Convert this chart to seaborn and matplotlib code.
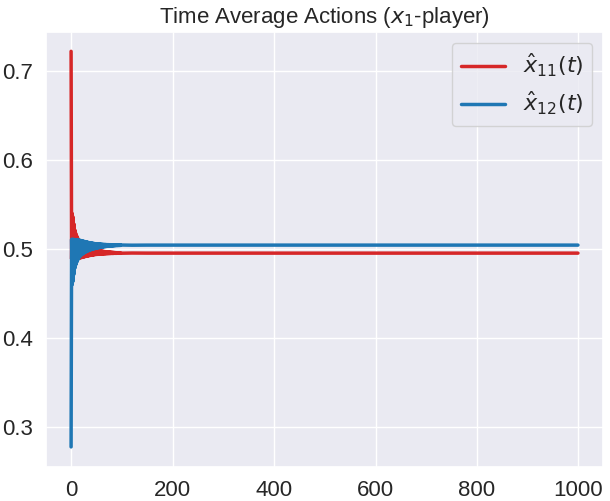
import pandas as pd
import matplotlib
matplotlib.use('Agg')
import matplotlib.pyplot as plt
import seaborn as sns
import numpy as np


'''
Values read off the reference picture.
The first 100 steps alternate, so they are kept as even / odd steps.
After that the averages are flat, so only a few points are kept.
'''
x11_even = [0.722, 0.540, 0.536, 0.528, 0.521, 0.517, 0.514, 0.5115, 0.5095, 0.508,
            0.5068, 0.5058, 0.505, 0.5042, 0.5035, 0.5029, 0.5023, 0.5018, 0.5013, 0.5009,
            0.5005, 0.5001, 0.4998, 0.4995, 0.4992, 0.4989, 0.4987, 0.4985, 0.4983, 0.4981,
            0.4979, 0.4977, 0.4975, 0.4973, 0.4972, 0.4970, 0.4969, 0.4968, 0.4967, 0.4966,
            0.4965, 0.4964, 0.4963, 0.4962, 0.4961, 0.4960, 0.4960, 0.4959, 0.4959, 0.4958]
x11_odd = [0.489, 0.489, 0.489, 0.4895, 0.4895, 0.4895, 0.4898, 0.490, 0.490, 0.4903,
           0.4906, 0.4909, 0.4912, 0.4915, 0.4918, 0.492, 0.4923, 0.4926, 0.4928, 0.493,
           0.4932, 0.4934, 0.4936, 0.4938, 0.4939, 0.4940, 0.4941, 0.4942, 0.4943, 0.4944,
           0.4945, 0.4946, 0.4947, 0.4947, 0.4948, 0.4949, 0.4949, 0.4950, 0.4950, 0.4951,
           0.4951, 0.4951, 0.4952, 0.4952, 0.4952, 0.4953, 0.4953, 0.4953, 0.4953, 0.4954]

x12_even = [0.278, 0.460, 0.464, 0.472, 0.479, 0.483, 0.486, 0.4885, 0.4905, 0.492,
            0.4932, 0.4942, 0.495, 0.4958, 0.4965, 0.4971, 0.4977, 0.4982, 0.4987, 0.4991,
            0.4995, 0.4999, 0.5002, 0.5005, 0.5008, 0.5011, 0.5013, 0.5015, 0.5017, 0.5019,
            0.5021, 0.5023, 0.5025, 0.5027, 0.5028, 0.5030, 0.5031, 0.5032, 0.5033, 0.5034,
            0.5035, 0.5036, 0.5037, 0.5038, 0.5039, 0.5040, 0.5040, 0.5041, 0.5041, 0.5042]
x12_odd = [0.511, 0.511, 0.511, 0.5105, 0.5105, 0.5105, 0.5102, 0.510, 0.510, 0.5097,
           0.5094, 0.5091, 0.5088, 0.5085, 0.5082, 0.508, 0.5077, 0.5074, 0.5072, 0.507,
           0.5068, 0.5066, 0.5064, 0.5062, 0.5061, 0.5060, 0.5059, 0.5058, 0.5057, 0.5056,
           0.5055, 0.5054, 0.5053, 0.5053, 0.5052, 0.5051, 0.5051, 0.5050, 0.5050, 0.5049,
           0.5049, 0.5049, 0.5048, 0.5048, 0.5048, 0.5047, 0.5047, 0.5047, 0.5047, 0.5046]

tail_steps = [120, 150, 200, 300, 400, 500, 600, 700, 800, 900, 999]
x11_tail = [0.4956, 0.4955, 0.4955, 0.4955, 0.4955, 0.4955, 0.4955, 0.4955, 0.4955, 0.4955, 0.4955]
x12_tail = [0.5044, 0.5045, 0.5045, 0.5045, 0.5045, 0.5045, 0.5045, 0.5045, 0.5045, 0.5045, 0.5045]

labels = [r'$\hat{x}_{11}(t)$', r'$\hat{x}_{12}(t)$']


'''
Put the even / odd steps back in order and add the tail
'''
def build(even, odd, tail):
    early = []
    for a, b in zip(even, odd):
        early += [a, b]
    return early + tail

steps = list(range(100)) + tail_steps
df = pd.concat([
    pd.DataFrame({'t': steps, 'value': build(x11_even, x11_odd, x11_tail), 'series': labels[0]}),
    pd.DataFrame({'t': steps, 'value': build(x12_even, x12_odd, x12_tail), 'series': labels[1]}),
])


sns.set_theme(style='darkgrid')
plt.rcParams['font.family'] = ['Liberation Sans', 'DejaVu Sans']

fig = plt.figure(figsize=(6.1, 5.01), dpi=100)
ax = fig.add_axes([0.075, 0.0685, 0.914, 0.8685])

sns.lineplot(data=df, x='t', y='value', hue='series', palette=['#d62728', '#1f77b4'],
             linewidth=2.5, ax=ax, sort=False)

ax.set_title(r'Time Average Actions ($x_1$-player)', fontsize=16)
ax.set_xlabel('')
ax.set_ylabel('')
ax.set_xticks([0, 200, 400, 600, 800, 1000])
ax.set_yticks([0.3, 0.4, 0.5, 0.6, 0.7])
ax.tick_params(labelsize=16)
ax.legend(loc='upper right', fontsize=16, title=None)

plt.savefig('out.png', dpi=100)
